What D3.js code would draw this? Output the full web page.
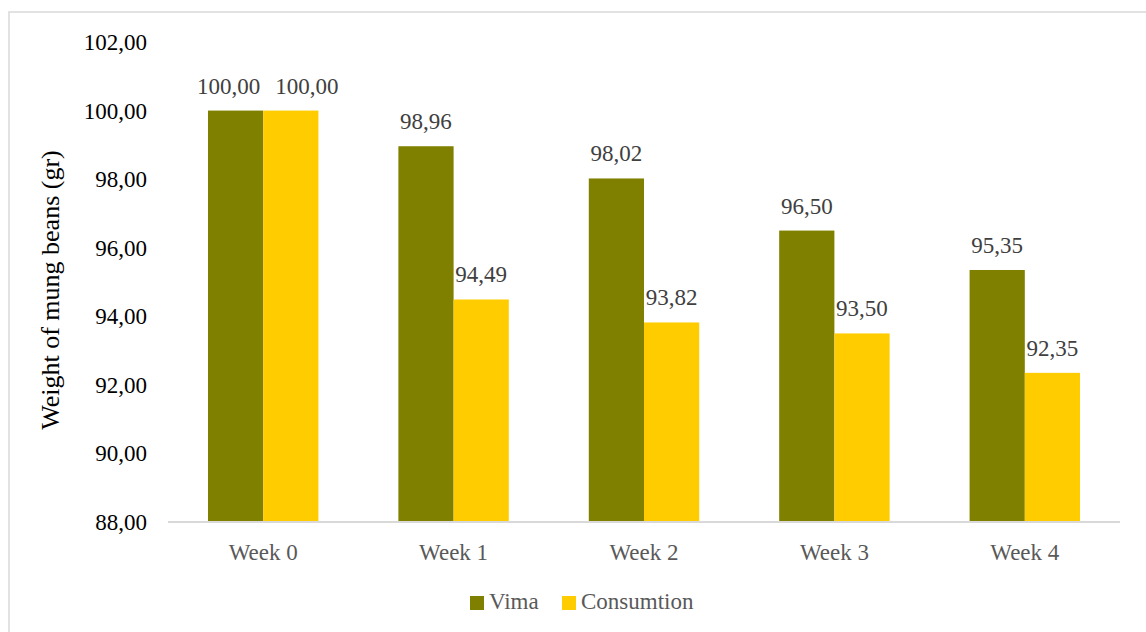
<!DOCTYPE html>
<html>
<head>
<meta charset="utf-8">
<script src="https://cdn.jsdelivr.net/npm/d3@7"></script>
</head>
<body style="margin:0">
<svg width="1146" height="632"></svg>
<script>
const weeks = ["Week 0", "Week 1", "Week 2", "Week 3", "Week 4"];
const seriesNames = ["Vima", "Consumtion"];
const vima = [100.00, 98.96, 98.02, 96.50, 95.35];
const consumtion = [100.00, 94.49, 93.82, 93.50, 92.35];
const yTicks = [88, 90, 92, 94, 96, 98, 100, 102];
const colors = ["#808000", "#ffcc00"];

const svg = d3.select("svg");
const fmt = v => v.toFixed(2).replace(".", ",");
const font = size => `font-family: 'Times New Roman', 'Liberation Serif', Tinos; font-size: ${size}px;`;

// outer frame
svg.append("rect")
  .attr("x", 9).attr("y", 12)
  .attr("width", 1200).attr("height", 700)
  .attr("fill", "none")
  .attr("stroke", "#d9d9d9")
  .attr("stroke-width", 1.5);

const x0 = d3.scaleBand()
  .domain(weeks)
  .range([168, 1120])
  .paddingInner(0.42)
  .paddingOuter(0.21);

const x1 = d3.scaleBand()
  .domain(seriesNames)
  .range([0, x0.bandwidth()]);

const y = d3.scaleLinear()
  .domain([88, 102])
  .range([522, 42]);

const rows = weeks.map((w, i) => ({ week: w, values: [vima[i], consumtion[i]] }));

// Y axis tick labels
svg.append("g")
  .selectAll("text")
  .data(yTicks)
  .join("text")
  .attr("x", 147)
  .attr("y", d => y(d) + 8)
  .attr("text-anchor", "end")
  .attr("style", font(23))
  .attr("fill", "#000")
  .text(d => fmt(d));

// bars
const groups = svg.append("g")
  .selectAll("g")
  .data(rows)
  .join("g")
  .attr("transform", d => `translate(${x0(d.week)},0)`);

const cells = d => d.values.map((v, j) => ({ name: seriesNames[j], value: v, j, tie: d.values[0] === d.values[1] }));

groups.selectAll("rect")
  .data(cells)
  .join("rect")
  .attr("x", d => x1(d.name))
  .attr("y", d => y(d.value))
  .attr("width", x1.bandwidth())
  .attr("height", d => y(88) - y(d.value))
  .attr("fill", d => colors[d.j]);

// value labels; when both bars are equal, push the labels apart so they don't collide
groups.selectAll("text")
  .data(cells)
  .join("text")
  .attr("x", d => x1(d.name) + x1.bandwidth() / 2 + (d.tie ? (d.j === 0 ? -7 : 16) : 0))
  .attr("y", d => y(d.value) - 17)
  .attr("text-anchor", "middle")
  .attr("style", font(23))
  .attr("fill", "#404040")
  .text(d => fmt(d.value));

// X axis line
svg.append("line")
  .attr("x1", 168).attr("x2", 1120)
  .attr("y1", y(88)).attr("y2", y(88))
  .attr("stroke", "#d9d9d9")
  .attr("stroke-width", 2);

// category labels
svg.append("g")
  .selectAll("text")
  .data(weeks)
  .join("text")
  .attr("x", d => x0(d) + x0.bandwidth() / 2)
  .attr("y", 560)
  .attr("text-anchor", "middle")
  .attr("style", font(23))
  .attr("fill", "#595959")
  .text(d => d);

// Y axis title
svg.append("text")
  .attr("transform", "translate(59,290) rotate(-90)")
  .attr("text-anchor", "middle")
  .attr("style", font(26))
  .attr("fill", "#000")
  .text("Weight of mung beans (gr)");

// legend
const legendX = [470, 562];
const legend = svg.append("g")
  .selectAll("g")
  .data(seriesNames)
  .join("g")
  .attr("transform", (d, i) => `translate(${legendX[i]},596)`);

legend.append("rect")
  .attr("width", 14).attr("height", 14)
  .attr("fill", (d, i) => colors[i]);

legend.append("text")
  .attr("x", 19)
  .attr("y", 13)
  .attr("style", font(23))
  .attr("fill", "#595959")
  .text(d => d);
</script>
</body>
</html>
